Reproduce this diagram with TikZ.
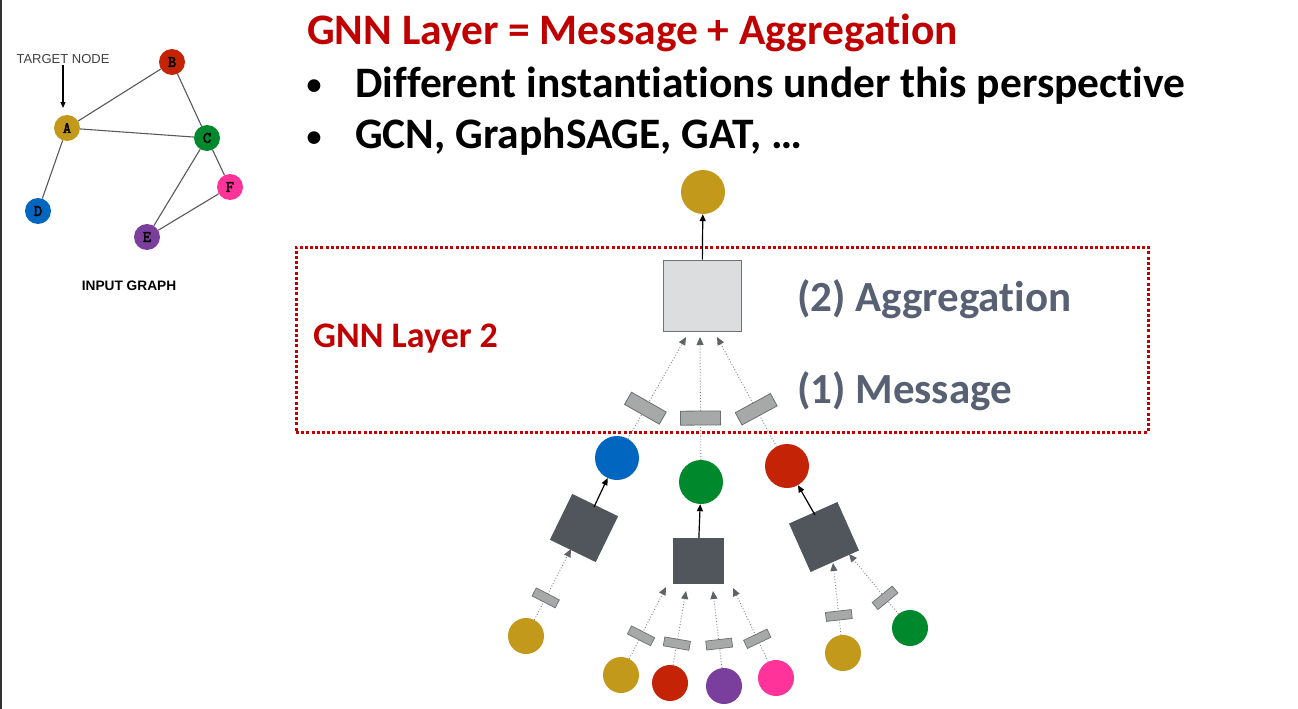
\documentclass[tikz,border=0pt]{standalone}
\usepackage{fontspec}
\setmainfont{Carlito}[Ligatures=NoCommon,RawFeature={-liga;-clig;-dlig}]
\newfontfamily\helv{Liberation Sans}
\newfontfamily\cour{lmmono10-regular.otf}[FakeBold=2.5]
\usetikzlibrary{arrows.meta}
\definecolor{cgold}{HTML}{C3991C}
\definecolor{cred}{HTML}{C42306}
\definecolor{cgreen}{HTML}{00882D}
\definecolor{cpink}{HTML}{FF3399}
\definecolor{cblue}{HTML}{0066C0}
\definecolor{cpurple}{HTML}{7A3E9D}
\definecolor{titlered}{HTML}{C00000}
\definecolor{slate}{HTML}{586074}
\definecolor{darkbox}{HTML}{51555C}
\definecolor{lightbox}{HTML}{DCDDDF}
\definecolor{lightdraw}{HTML}{6D7278}
\definecolor{msgfill}{HTML}{A6A9A8}
\definecolor{msgdraw}{HTML}{6B6F73}
\definecolor{arrgray}{HTML}{7F8286}
\definecolor{tipgray}{HTML}{5F6368}
\definecolor{edgegray}{HTML}{58595B}
\begin{document}
\begin{tikzpicture}[x=1pt,y=-1pt,
  gnode/.style={circle,inner sep=0pt,minimum size=26pt,font=\cour\fontsize{16}{16}\selectfont},
  gedge/.style={edgegray,line width=1.1pt},
  bigc/.style={circle,inner sep=0pt,minimum size=44pt},
  leafc/.style={circle,inner sep=0pt,minimum size=36pt},
  aggbox/.style={draw=lightdraw,fill=lightbox,line width=1pt,minimum width=78pt,minimum height=71pt,inner sep=0pt},
  darksq/.style={fill=darkbox,minimum size=51pt,inner sep=0pt},
  msgbig/.style={solid,draw=msgdraw,fill=msgfill,line width=0.8pt,minimum width=14pt,minimum height=40pt,inner sep=0pt,sloped},
  msgsmall/.style={solid,draw=msgdraw,fill=msgfill,line width=0.7pt,minimum width=9pt,minimum height=26pt,inner sep=0pt,sloped},
  msgarrow/.style={arrgray,line width=0.9pt,dotted,-{Triangle[length=8pt,width=7pt,fill=tipgray,color=tipgray]}},
  solidarrow/.style={black,line width=1.2pt,-{Triangle[length=7pt,width=6pt]}},
  titlefont/.style={font=\bfseries\fontsize{43.5}{43.5}\selectfont},
  bulletfont/.style={font=\bfseries\fontsize{30}{30}\selectfont},
]
\useasboundingbox (0,0) rectangle (1298,709);
\fill[white] (0,0) rectangle (1298,709);
\draw[black!80,line width=1.5pt] (0.75,0) -- (0.75,709);

% ---------- input graph ----------
\node[gnode,fill=cred] (B) at (172,62) {B};
\node[gnode,fill=cgold] (A) at (67,128) {A};
\node[gnode,fill=cgreen] (C) at (207,138) {C};
\node[gnode,fill=cpink] (F) at (230,187) {F};
\node[gnode,fill=cblue] (D) at (38,211) {D};
\node[gnode,fill=cpurple] (E) at (147,237) {E};
\draw[gedge] (A) -- (B);
\draw[gedge] (A) -- (C);
\draw[gedge] (B) -- (C);
\draw[gedge] (A) -- (D);
\draw[gedge] (C) -- (E);
\draw[gedge] (C) -- (F);
\draw[gedge] (E) -- (F);
\node[font=\helv\fontsize{13}{13}\selectfont,text=black!75,inner sep=1pt] (tgt) at (63,59) {TARGET NODE};
\coordinate (tA) at (63,108);
\draw[black,line width=1.1pt,-{Triangle[length=6pt,width=5pt]}] (tgt.south -| tA) -- (tA);
\node[font=\helv\bfseries\fontsize{13.7}{13.7}\selectfont] (ig) at (129,286) {INPUT GRAPH};

% ---------- text ----------
\node[titlefont,text=titlered,anchor=base west,inner sep=0pt] (title) at (307,45) {GNN Layer = Message + Aggregation};
\node[bulletfont,anchor=base,inner sep=0pt] (b1) at (314,95) {•};
\node[titlefont,anchor=base west,inner sep=0pt] (l1) at (355,97) {Different instantiations under this perspective};
\node[bulletfont,anchor=base,inner sep=0pt] (b2) at (314,146) {•};
\node[titlefont,anchor=base west,inner sep=0pt] (l2) at (355,148) {GCN, GraphSAGE, GAT, …};

% ---------- layer box ----------
\node[draw=titlered,line width=3pt,dash pattern=on 3pt off 2.2pt,minimum width=852pt,minimum height=185pt,inner sep=0pt] (layer) at (722,339.5) {};
\node[text=titlered,font=\bfseries\fontsize{36}{36}\selectfont,anchor=base west,inner sep=0pt] (lname) at (313,347) {GNN Layer 2};
\node[text=slate,font=\bfseries\fontsize{43}{43}\selectfont,anchor=base west,inner sep=0pt] (agg) at (797,311) {(2) Aggregation};
\node[text=slate,font=\bfseries\fontsize{43}{43}\selectfont,anchor=base west,inner sep=0pt] (msg) at (797,403) {(1) Message};

% ---------- computation tree ----------
\node[bigc,fill=cgold] (top) at (703,192) {};
\node[aggbox] (aggsq) at (702,295.5) {};
\draw[solidarrow] (aggsq) -- (top);

\node[bigc,fill=cblue] (n1) at (617,458) {};
\node[bigc,fill=cgreen] (n2) at (701,482) {};
\node[bigc,fill=cred] (n3) at (787,466) {};
\coordinate (t1) at (686,337);
\coordinate (t2) at (700,337);
\coordinate (t3) at (717,337);
\draw[msgarrow] (n1) -- node[msgbig,pos=0.3] {} (t1);
\draw[msgarrow] (n2) -- node[msgbig,pos=0.34] {} (t2);
\draw[msgarrow] (n3) -- node[msgbig,pos=0.34] {} (t3);

\node[darksq,rotate=-26] (s1) at (584,528) {};
\node[darksq,minimum height=46pt] (s2) at (698,561) {};
\node[darksq,rotate=24,minimum size=53pt] (s3) at (824,537) {};
\coordinate (u1) at (594,507);
\coordinate (u3) at (815,515);
\draw[solidarrow] (u1) -- (n1);
\draw[solidarrow] (s2) -- (n2);
\draw[solidarrow] (u3) -- (n3);

% leaves
\node[leafc,fill=cgold] (la) at (526,636) {};
\node[leafc,fill=cgold] (ma) at (621,675) {};
\node[leafc,fill=cred] (mb) at (670,683) {};
\node[leafc,fill=cpurple] (mc) at (724,686) {};
\node[leafc,fill=cpink] (md) at (776,678) {};
\node[leafc,fill=cgold] (ra) at (843,653) {};
\node[leafc,fill=cgreen] (rb) at (910,628) {};

\coordinate (p1) at (571,549);
\coordinate (p2) at (666,587);
\coordinate (p3) at (686,591);
\coordinate (p4) at (713,591);
\coordinate (p5) at (733,588);
\coordinate (p6) at (833,563);
\coordinate (p7) at (849,554);
\draw[msgarrow] (la) -- node[msgsmall,pos=0.31] {} (p1);
\draw[msgarrow] (ma) -- node[msgsmall,pos=0.32] {} (p2);
\draw[msgarrow] (mb) -- node[msgsmall,pos=0.29] {} (p3);
\draw[msgarrow] (mc) -- node[msgsmall,pos=0.31] {} (p4);
\draw[msgarrow] (md) -- node[msgsmall,pos=0.31] {} (p5);
\draw[msgarrow] (ra) -- node[msgsmall,pos=0.27] {} (p6);
\draw[msgarrow] (rb) -- node[msgsmall,pos=0.27] {} (p7);
\end{tikzpicture}
\end{document}
